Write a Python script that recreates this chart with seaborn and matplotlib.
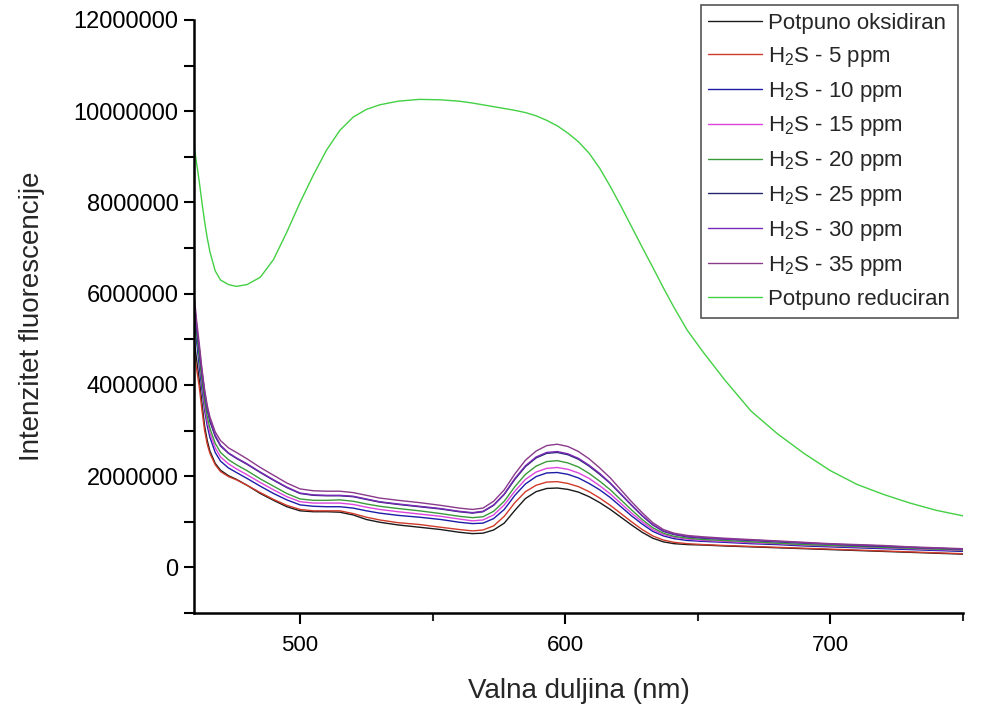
import numpy as np
import pandas as pd
import seaborn as sns
import matplotlib.pyplot as plt
from matplotlib.ticker import MultipleLocator


# wavelength grid (nm)
wavelength = [460, 461, 462, 463, 464, 465, 466, 468, 470, 473, 476, 480, 485, 490, 495,
              500, 505, 510, 515, 520, 525, 530, 537, 545, 553, 560, 565, 569, 573, 577,
              581, 585, 589, 593, 597, 601, 605, 609, 613, 617, 621, 625, 629, 633, 637,
              641, 646, 652, 660, 670, 680, 690, 700, 710, 720, 730, 740, 750]

# intensities in millions
oksidiran = [5.0, 4.55, 4.1, 3.6, 3.1, 2.78, 2.55, 2.28, 2.13, 2.01, 1.93, 1.8, 1.62, 1.47, 1.33,
             1.24, 1.22, 1.22, 1.21, 1.15, 1.05, 0.99, 0.93, 0.88, 0.83, 0.77, 0.74, 0.75, 0.82, 0.97,
             1.25, 1.51, 1.66, 1.73, 1.74, 1.71, 1.65, 1.55, 1.42, 1.27, 1.1, 0.93, 0.77, 0.64, 0.56,
             0.52, 0.5, 0.49, 0.47, 0.45, 0.43, 0.41, 0.39, 0.37, 0.35, 0.33, 0.31, 0.29]
h2s_5 = [4.7, 4.35, 3.95, 3.45, 3.0, 2.7, 2.5, 2.25, 2.1, 1.99, 1.92, 1.8, 1.64, 1.49, 1.36,
         1.27, 1.24, 1.24, 1.24, 1.18, 1.1, 1.04, 0.98, 0.94, 0.88, 0.83, 0.8, 0.82, 0.91, 1.12,
         1.42, 1.66, 1.8, 1.87, 1.88, 1.84, 1.77, 1.66, 1.52, 1.36, 1.18, 1.0, 0.83, 0.69, 0.6,
         0.55, 0.52, 0.5, 0.48, 0.46, 0.44, 0.42, 0.4, 0.38, 0.36, 0.34, 0.32, 0.3]
h2s_10 = [5.5, 4.95, 4.4, 3.9, 3.45, 3.1, 2.85, 2.52, 2.33, 2.18, 2.08, 1.95, 1.78, 1.62, 1.48,
          1.37, 1.34, 1.33, 1.33, 1.3, 1.24, 1.19, 1.14, 1.1, 1.05, 0.99, 0.96, 0.97, 1.07, 1.27,
          1.58, 1.83, 1.99, 2.07, 2.08, 2.04, 1.96, 1.84, 1.7, 1.53, 1.33, 1.13, 0.95, 0.79, 0.69,
          0.63, 0.59, 0.57, 0.55, 0.52, 0.5, 0.47, 0.45, 0.43, 0.41, 0.39, 0.37, 0.35]
h2s_15 = [5.9, 5.2, 4.6, 4.05, 3.55, 3.2, 2.95, 2.62, 2.42, 2.27, 2.16, 2.03, 1.86, 1.7, 1.55,
          1.44, 1.41, 1.41, 1.41, 1.38, 1.32, 1.27, 1.22, 1.17, 1.12, 1.06, 1.02, 1.04, 1.15, 1.37,
          1.67, 1.93, 2.09, 2.17, 2.19, 2.15, 2.07, 1.95, 1.79, 1.61, 1.4, 1.19, 1.0, 0.83, 0.72,
          0.66, 0.62, 0.59, 0.57, 0.54, 0.52, 0.49, 0.47, 0.45, 0.43, 0.41, 0.39, 0.37]
h2s_20 = [5.6, 5.1, 4.6, 4.1, 3.65, 3.3, 3.05, 2.72, 2.52, 2.36, 2.25, 2.12, 1.94, 1.78, 1.62,
          1.5, 1.47, 1.47, 1.48, 1.45, 1.39, 1.34, 1.29, 1.24, 1.18, 1.12, 1.09, 1.11, 1.23, 1.45,
          1.77, 2.04, 2.22, 2.32, 2.34, 2.29, 2.2, 2.06, 1.89, 1.7, 1.48, 1.26, 1.05, 0.87, 0.75,
          0.68, 0.64, 0.61, 0.59, 0.56, 0.53, 0.5, 0.48, 0.46, 0.44, 0.42, 0.4, 0.38]
h2s_25 = [5.8, 5.25, 4.75, 4.25, 3.8, 3.45, 3.2, 2.87, 2.66, 2.5, 2.39, 2.26, 2.08, 1.91, 1.75,
          1.62, 1.58, 1.57, 1.57, 1.55, 1.49, 1.43, 1.38, 1.33, 1.28, 1.22, 1.19, 1.22, 1.36, 1.6,
          1.93, 2.21, 2.4, 2.5, 2.52, 2.47, 2.37, 2.22, 2.04, 1.84, 1.6, 1.36, 1.13, 0.93, 0.79,
          0.72, 0.67, 0.64, 0.62, 0.59, 0.56, 0.53, 0.51, 0.48, 0.46, 0.44, 0.42, 0.4]
h2s_30 = [5.9, 5.3, 4.8, 4.3, 3.85, 3.5, 3.25, 2.9, 2.68, 2.51, 2.4, 2.27, 2.09, 1.92, 1.76,
          1.63, 1.59, 1.58, 1.58, 1.56, 1.5, 1.44, 1.39, 1.34, 1.29, 1.23, 1.2, 1.23, 1.37, 1.61,
          1.95, 2.23, 2.42, 2.52, 2.54, 2.49, 2.39, 2.24, 2.06, 1.85, 1.61, 1.37, 1.14, 0.94, 0.8,
          0.73, 0.68, 0.65, 0.62, 0.6, 0.57, 0.54, 0.51, 0.49, 0.47, 0.44, 0.42, 0.4]
h2s_35 = [6.0, 5.4, 4.9, 4.35, 3.9, 3.55, 3.3, 2.97, 2.78, 2.62, 2.52, 2.38, 2.19, 2.02, 1.85,
          1.72, 1.68, 1.67, 1.67, 1.64, 1.58, 1.52, 1.47, 1.42, 1.36, 1.3, 1.27, 1.3, 1.45, 1.7,
          2.05, 2.35, 2.55, 2.67, 2.7, 2.65, 2.54, 2.38, 2.18, 1.96, 1.7, 1.44, 1.2, 0.98, 0.83,
          0.75, 0.7, 0.67, 0.64, 0.61, 0.58, 0.55, 0.52, 0.5, 0.48, 0.45, 0.43, 0.41]
reduciran = [9.26, 8.85, 8.45, 8.0, 7.58, 7.22, 6.92, 6.5, 6.3, 6.2, 6.16, 6.2, 6.36, 6.75, 7.35,
             8.0, 8.6, 9.15, 9.58, 9.87, 10.04, 10.14, 10.22, 10.26, 10.25, 10.22, 10.18, 10.14, 10.1, 10.06,
             10.02, 9.97, 9.9, 9.8, 9.68, 9.52, 9.33, 9.08, 8.75, 8.35, 7.92, 7.47, 7.02, 6.58, 6.13,
             5.7, 5.2, 4.72, 4.12, 3.43, 2.93, 2.5, 2.12, 1.82, 1.6, 1.41, 1.25, 1.13]

labels = ["Potpuno oksidiran", r"H$_2$S - 5 ppm", r"H$_2$S - 10 ppm", r"H$_2$S - 15 ppm",
          r"H$_2$S - 20 ppm", r"H$_2$S - 25 ppm", r"H$_2$S - 30 ppm", r"H$_2$S - 35 ppm",
          "Potpuno reduciran"]
series = [oksidiran, h2s_5, h2s_10, h2s_15, h2s_20, h2s_25, h2s_30, h2s_35, reduciran]
colors = ["#1a1a1a", "#d03a2a", "#1c1ca8", "#dd44dd", "#3a9a3a",
          "#262670", "#7a2ab8", "#8a3a8a", "#44d044"]

sns.set_theme(style="ticks")
plt.rcParams["font.family"] = ["Liberation Sans", "DejaVu Sans"]
plt.rcParams["mathtext.default"] = "regular"

fig = plt.figure(figsize=(9.81, 7.06), dpi=100)
ax = fig.add_axes([194 / 981, 1 - 613 / 706, (963 - 194) / 981, (613 - 20) / 706])

for vals, lab, col in zip(series, labels, colors):
    df = pd.DataFrame({"wl": wavelength, "I": np.array(vals) * 1e6})
    sns.lineplot(data=df, x="wl", y="I", color=col, linewidth=1.0, label=lab, ax=ax)

ax.set_xlim(460, 750)
ax.set_ylim(-1e6, 12e6)
ax.xaxis.set_major_locator(MultipleLocator(100))
ax.xaxis.set_minor_locator(MultipleLocator(50))
ax.yaxis.set_major_locator(MultipleLocator(2e6))
ax.yaxis.set_minor_locator(MultipleLocator(1e6))
ax.ticklabel_format(style="plain", axis="y", useOffset=False)

sns.despine(ax=ax)
for s in ["left", "bottom"]:
    ax.spines[s].set_linewidth(1.8)
    ax.spines[s].set_color("black")

ax.tick_params(axis="x", which="major", direction="out", length=8, width=1.5,
               labelsize=16, pad=8, colors="black")
ax.tick_params(axis="x", which="minor", direction="out", length=6, width=1.5)
ax.tick_params(axis="y", which="both", direction="out", length=7, width=1.5,
               labelsize=17, pad=4, colors="black")

ax.set_xlabel("Valna duljina (nm)", fontsize=20, labelpad=16)
ax.set_ylabel("Intenzitet fluorescencije", fontsize=20, labelpad=21)

leg = ax.legend(loc="upper right", bbox_to_anchor=(958 / 981, 1 - 5 / 706),
                bbox_transform=fig.transFigure, borderaxespad=0, fontsize=16,
                frameon=True, fancybox=False, framealpha=1, edgecolor="#555555",
                handlelength=2.4, handletextpad=0.3, labelspacing=0.49, borderpad=0.35)
leg.get_frame().set_linewidth(1.2)

fig.savefig("out.png", dpi=100)
